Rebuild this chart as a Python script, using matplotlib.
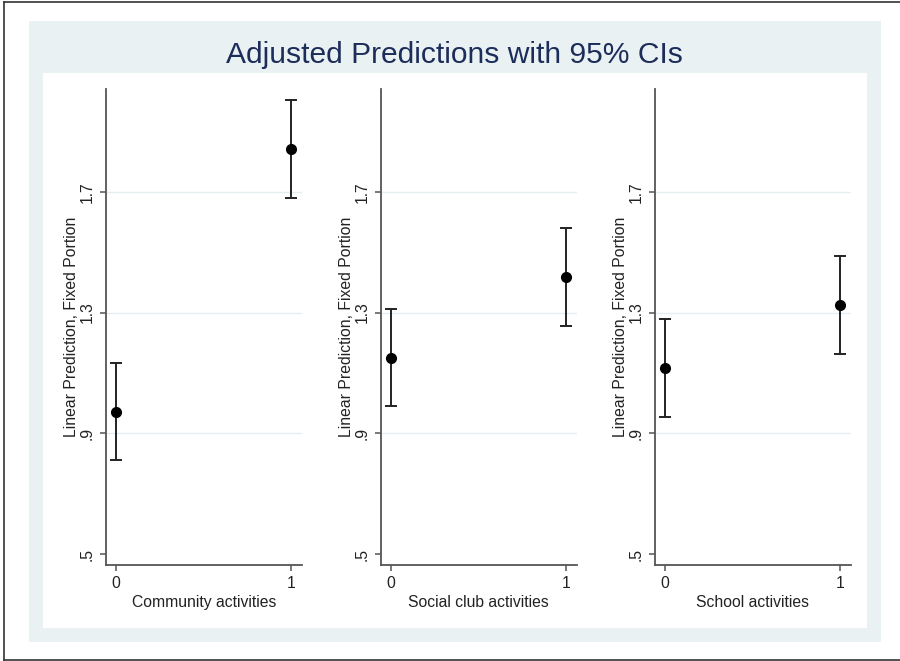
import matplotlib
matplotlib.use("Agg")
import matplotlib.pyplot as plt
from matplotlib.patches import Rectangle
from matplotlib.lines import Line2D

plt.rcParams['font.family'] = ['Liberation Sans', 'DejaVu Sans']

# Data
levels = [0, 1]
panels = ["Community activities", "Social club activities", "School activities"]
pred_community = [0.970, 1.842]
lo_community = [0.811, 1.678]
hi_community = [1.133, 2.004]
pred_social = [1.150, 1.418]
lo_social = [0.990, 1.255]
hi_social = [1.312, 1.581]
pred_school = [1.115, 1.324]
lo_school = [0.954, 1.163]
hi_school = [1.277, 1.486]

preds = [pred_community, pred_social, pred_school]
los = [lo_community, lo_social, lo_school]
his = [hi_community, hi_social, hi_school]

yticks = [0.5, 0.9, 1.3, 1.7]
ytick_labels = [".5", ".9", "1.3", "1.7"]
grid_vals = [0.9, 1.3, 1.7]

W, H = 900, 661
fig = plt.figure(figsize=(W / 100, H / 100), dpi=100)
fig.patch.set_facecolor("white")


def box(x0, y0, x1, y1):
    # pixel box (top-left origin) -> figure fraction
    return [x0 / W, 1 - y1 / H, (x1 - x0) / W, (y1 - y0) / H]


# graph region backgrounds
l, b, w, h = box(29, 21, 881, 642)
fig.add_artist(Rectangle((l, b), w, h, transform=fig.transFigure,
                         facecolor="#EAF1F3", edgecolor="none", zorder=0))
l, b, w, h = box(43, 73, 867, 628)
fig.add_artist(Rectangle((l, b), w, h, transform=fig.transFigure,
                         facecolor="white", edgecolor="none", zorder=0))

# outer frame (left, top, bottom)
fig.add_artist(Line2D([3.5 / W, 3.5 / W], [1 - 1.5 / H, 1 - 659.5 / H],
                      transform=fig.transFigure, color="#333333", lw=1.2))
fig.add_artist(Line2D([3.5 / W, 1], [1 - 1.5 / H, 1 - 1.5 / H],
                      transform=fig.transFigure, color="#333333", lw=1.2))
fig.add_artist(Line2D([3.5 / W, 1], [1 - 659.5 / H, 1 - 659.5 / H],
                      transform=fig.transFigure, color="#333333", lw=1.2))

fig.text(454.5 / W, 1 - 63.3 / H, "Adjusted Predictions with 95% CIs",
         ha="center", va="baseline", fontsize=21.6, color="#1C2D5A")

axis_left = [106, 381, 655]
for i in range(3):
    x0 = axis_left[i]
    ax = fig.add_axes(box(x0, 89, x0 + 195.5, 565))
    ax.set_facecolor("none")
    for s in ["top", "right"]:
        ax.spines[s].set_visible(False)
    for s in ["left", "bottom"]:
        ax.spines[s].set_color("#555555")
        ax.spines[s].set_linewidth(1.3)

    for g in grid_vals:
        ax.axhline(g, color="#E6EEF0", lw=1.0, zorder=1)

    yerr = [[p - lo for p, lo in zip(preds[i], los[i])],
            [hi - p for p, hi in zip(preds[i], his[i])]]
    ax.errorbar(levels, preds[i], yerr=yerr, fmt="o", color="#000000",
                ecolor="#222222", elinewidth=1.4, capsize=4, capthick=1.4,
                markersize=7, zorder=3)

    ax.set_xlim(-0.058, 1.058)
    ax.set_ylim(0.464, 2.040)
    ax.set_xticks(levels)
    ax.set_xticklabels(["0", "1"])
    ax.set_yticks(yticks)
    ax.set_yticklabels(ytick_labels, rotation=90, va="center")
    ax.tick_params(axis="both", length=4, width=1.1, color="#555555",
                   labelsize=11.3, labelcolor="#222222", pad=4)
    ax.set_xlabel(panels[i], fontsize=11.3, color="#222222", labelpad=3)
    ax.set_ylabel("Linear Prediction, Fixed Portion", fontsize=11.3,
                  color="#222222", labelpad=0.5)

fig.savefig("out.png", dpi=100)
